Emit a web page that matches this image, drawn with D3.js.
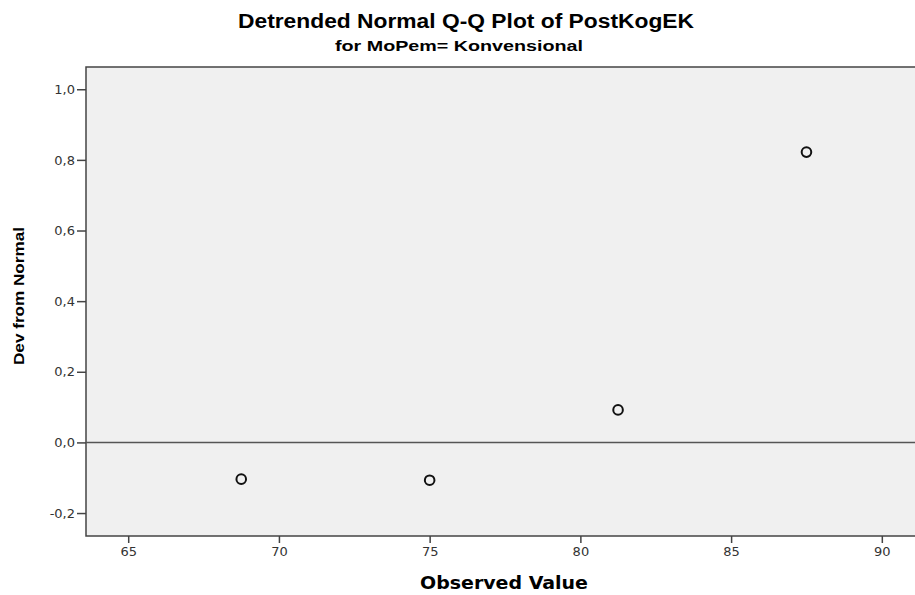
<!DOCTYPE html>
<html>
<head>
<meta charset="utf-8">
<script src="https://cdn.jsdelivr.net/npm/d3@7"></script>
<style>
  body { margin: 0; background: #fff; }
  svg { display: block; }
</style>
</head>
<body>
<div id="chart"></div>
<script>
// observed values and their deviation from normal
const observed = [68.75, 75, 81.25, 87.5];
const devFromNormal = [-0.104, -0.107, 0.092, 0.822];
const xTicks = [65, 70, 75, 80, 85, 90];
const yTicks = [-0.2, 0, 0.2, 0.4, 0.6, 0.8, 1.0];

const width = 915, height = 595;
const margin = {top: 67, left: 86, right: -3, bottom: 59};

const svg = d3.select("#chart").append("svg")
  .attr("width", width)
  .attr("height", height);

const x = d3.scaleLinear()
  .domain([63.6, 91.2])
  .range([margin.left, width - margin.right]);

const y = d3.scaleLinear()
  .domain([-0.265, 1.063])
  .range([height - margin.bottom, margin.top]);

// plot background
svg.append("rect")
  .attr("x", margin.left)
  .attr("y", margin.top)
  .attr("width", width - margin.right - margin.left)
  .attr("height", height - margin.bottom - margin.top)
  .attr("fill", "#f0f0f0")
  .attr("stroke", "#444")
  .attr("stroke-width", 1.5);

// reference line at zero
svg.append("line")
  .attr("x1", margin.left)
  .attr("x2", width)
  .attr("y1", y(0))
  .attr("y2", y(0))
  .attr("stroke", "#555")
  .attr("stroke-width", 1.5);

const fmt = d => d3.format(".1f")(d).replace(".", ",").replace("−", "-");

let yAxis = svg.append("g")
  .attr("transform", "translate(" + margin.left + ",0)")
  .call(d3.axisLeft(y).tickValues(yTicks).tickSize(9).tickPadding(2).tickFormat(fmt));

let xAxis = svg.append("g")
  .attr("transform", "translate(0," + (height - margin.bottom) + ")")
  .call(d3.axisBottom(x).tickValues(xTicks).tickSize(7).tickPadding(4));

[yAxis, xAxis].forEach(a => {
  a.select(".domain").remove();
  a.selectAll(".tick line").attr("stroke", "#444").attr("stroke-width", 1.5);
  a.selectAll(".tick text")
    .attr("fill", "#333")
    .style("font-family", "DejaVu Sans")
    .style("font-size", "13px");
});

// the points
svg.append("g")
  .selectAll("circle")
  .data(observed.map((v, i) => [v, devFromNormal[i]]))
  .enter()
  .append("circle")
  .attr("cx", d => x(d[0]))
  .attr("cy", d => y(d[1]))
  .attr("r", 4.8)
  .attr("fill", "none")
  .attr("stroke", "#111")
  .attr("stroke-width", 2);

// titles
svg.append("text")
  .attr("x", 466)
  .attr("y", 28)
  .attr("text-anchor", "middle")
  .attr("textLength", 456)
  .attr("lengthAdjust", "spacingAndGlyphs")
  .style("font-family", "Liberation Sans")
  .style("font-weight", "bold")
  .style("font-size", "20px")
  .text("Detrended Normal Q-Q Plot of PostKogEK");

svg.append("text")
  .attr("x", 459)
  .attr("y", 51)
  .attr("text-anchor", "middle")
  .attr("textLength", 248)
  .attr("lengthAdjust", "spacingAndGlyphs")
  .style("font-family", "Liberation Sans")
  .style("font-weight", "bold")
  .style("font-size", "15px")
  .text("for MoPem= Konvensional");

svg.append("text")
  .attr("x", 504)
  .attr("y", 589)
  .attr("text-anchor", "middle")
  .attr("textLength", 168)
  .attr("lengthAdjust", "spacingAndGlyphs")
  .style("font-family", "DejaVu Sans")
  .style("font-weight", "bold")
  .style("font-size", "17px")
  .text("Observed Value");

svg.append("text")
  .attr("transform", "translate(24,296) rotate(-90)")
  .attr("text-anchor", "middle")
  .attr("textLength", 138)
  .attr("lengthAdjust", "spacingAndGlyphs")
  .style("font-family", "Liberation Sans")
  .style("font-weight", "bold")
  .style("font-size", "15px")
  .text("Dev from Normal");
</script>
</body>
</html>
